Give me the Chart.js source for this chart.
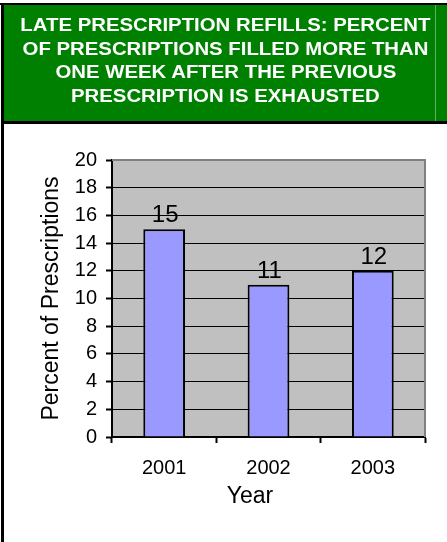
<!DOCTYPE html>
<html>
<head>
<meta charset="utf-8">
<script src="https://cdn.jsdelivr.net/npm/chart.js@4/dist/chart.umd.min.js"></script>
<style>
  html, body { margin: 0; padding: 0; background: #fff; }
  body { width: 447px; height: 542px; position: relative; overflow: hidden; font-family: "Liberation Sans", Arial, sans-serif; }
  #chartWrap { position: absolute; left: 0; top: 0; width: 447px; height: 542px; }
  .blk { position: absolute; background: #000; }
  #green { position: absolute; left: 4px; top: 5px; width: 443px; height: 116px; background: #008000; }
  #gline { position: absolute; left: 435px; top: 5px; width: 1px; height: 116px; background: #5FAF5F; }
  #title { position: absolute; left: 4px; top: 13px; width: 443px; text-align: center; color: #fff; font-weight: bold; font-size: 18.5px; line-height: 23.5px; white-space: nowrap; }
  #title span { display: inline-block; transform: scaleX(1.1); transform-origin: center; }
</style>
</head>
<body>
<div id="chartWrap"><canvas id="c" width="447" height="542"></canvas></div>
<div class="blk" style="left:0;top:3px;width:447px;height:2px;"></div>
<div class="blk" style="left:1px;top:3px;width:3px;height:539px;"></div>
<div id="green"></div>
<div id="gline"></div>
<div class="blk" style="left:1px;top:121px;width:446px;height:3px;"></div>
<div id="title">
  <span>LATE PRESCRIPTION REFILLS: PERCENT</span><br>
  <span>OF PRESCRIPTIONS FILLED MORE THAN</span><br>
  <span>ONE WEEK AFTER THE PREVIOUS</span><br>
  <span>PRESCRIPTION IS EXHAUSTED</span>
</div>
<script>
const years = ['2001', '2002', '2003'];
const lateRefillPercent = [15, 11, 12];
const yAxisTitle = 'Percent of Prescriptions';
const xAxisTitle = 'Year';
const yMin = 0, yMax = 20, yStep = 2;

const FONT = '"Liberation Sans", Arial, sans-serif';

const plotBg = {
  id: 'plotBg',
  beforeDraw(chart) {
    const {ctx, chartArea: a} = chart;
    ctx.save();
    ctx.fillStyle = '#C0C0C0';
    ctx.fillRect(a.left, a.top, a.right - a.left, a.bottom - a.top);
    ctx.restore();
  },
  beforeDatasetsDraw(chart) {
    const {ctx, chartArea: a} = chart;
    ctx.save();
    ctx.strokeStyle = '#808080';
    ctx.lineWidth = 2;
    ctx.beginPath();
    ctx.moveTo(a.left, a.top);
    ctx.lineTo(a.right, a.top);
    ctx.lineTo(a.right, a.bottom);
    ctx.stroke();
    ctx.restore();
  }
};

const valueLabels = {
  id: 'valueLabels',
  afterDatasetsDraw(chart) {
    const {ctx} = chart;
    const meta = chart.getDatasetMeta(0);
    ctx.save();
    ctx.fillStyle = '#000';
    ctx.font = '24px ' + FONT;
    ctx.textAlign = 'center';
    ctx.textBaseline = 'alphabetic';
    meta.data.forEach((bar, i) => {
      ctx.fillText(String(chart.data.datasets[0].data[i]), bar.x + 1, bar.y - 7);
    });
    ctx.restore();
  },
  afterDraw(chart) {
    const {ctx} = chart;
    ctx.save();
    ctx.fillStyle = '#000';
    ctx.font = '23px ' + FONT;
    ctx.textAlign = 'center';
    ctx.textBaseline = 'middle';
    ctx.fillText(xAxisTitle, 250, 497);
    ctx.restore();
  }
};

new Chart(document.getElementById('c'), {
  type: 'bar',
  data: {
    labels: years,
    datasets: [{
      data: lateRefillPercent,
      backgroundColor: '#9999FF',
      borderColor: '#000',
      borderWidth: 2,
      borderSkipped: 'bottom',
      barPercentage: 0.4,
      categoryPercentage: 1.0
    }]
  },
  options: {
    responsive: false,
    animation: false,
    events: [],
    layout: { padding: { top: 160, right: 22, left: 0, bottom: 0 } },
    plugins: { legend: { display: false }, tooltip: { enabled: false }, title: { display: false } },
    scales: {
      x: {
        offset: true,
        afterFit(s) { s.height = 105; },
        grid: { display: true, drawOnChartArea: false, drawTicks: true, tickLength: 6, tickColor: '#000', tickWidth: 2, offset: true },
        border: { display: true, color: '#000', width: 2 },
        ticks: { color: '#000', font: { family: FONT, size: 20 }, padding: 13, maxRotation: 0 },
        title: { display: false }
      },
      y: {
        min: yMin, max: yMax,
        afterFit(s) { s.width = 112; },
        grid: {
          color: (c) => (c.tick && c.tick.value === yMax) ? '#808080' : '#000',
          lineWidth: 1, drawTicks: true, tickLength: 6, tickColor: '#000', tickWidth: 2
        },
        border: { display: true, color: '#000', width: 2 },
        ticks: { stepSize: yStep, color: '#000', font: { family: FONT, size: 20 }, padding: 9 },
        title: { display: true, text: yAxisTitle, color: '#000', font: { family: FONT, size: 23 }, padding: { top: 38, bottom: 0 } }
      }
    }
  },
  plugins: [plotBg, valueLabels]
});
</script>
</body>
</html>
